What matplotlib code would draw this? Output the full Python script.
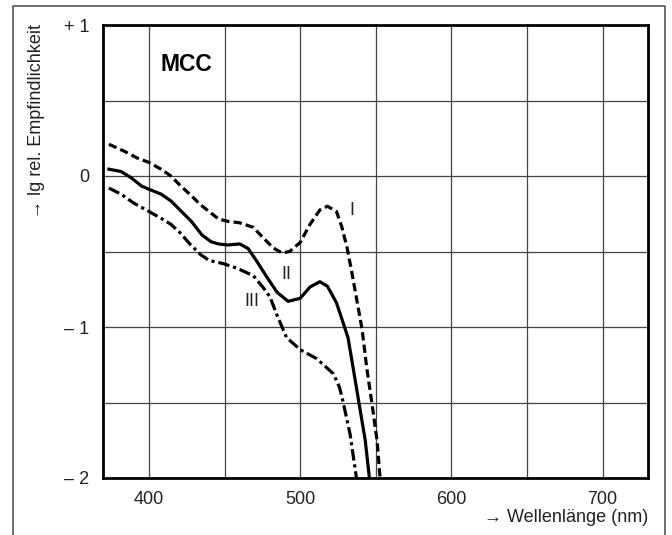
import matplotlib
matplotlib.use("Agg")
import matplotlib.pyplot as plt
from matplotlib.lines import Line2D

plt.rcParams["font.family"] = ["Liberation Sans", "DejaVu Sans"]

# curve I (dashed)
wl_1 = [373.5, 383.5, 392, 400, 408, 414.5, 421, 428, 434, 441, 446, 452, 460,
        469, 475.6, 482, 488, 493, 500, 506.5, 513, 518, 524, 527.6, 531, 534,
        537.6, 541, 544, 547.5, 550.8, 553]
val_1 = [0.21, 0.165, 0.12, 0.09, 0.045, 0.0, -0.066, -0.13, -0.19, -0.245,
         -0.285, -0.30, -0.31, -0.34, -0.41, -0.475, -0.51, -0.50, -0.44, -0.32,
         -0.225, -0.20, -0.235, -0.34, -0.475, -0.63, -0.83, -1.02, -1.27, -1.51,
         -1.75, -2.02]

# curve II (solid)
wl_2 = [373.5, 381.5, 388, 395, 400, 408, 414.5, 421, 428, 435, 441, 446, 452,
        460, 465.5, 471, 478, 484.7, 492, 500, 506.5, 513, 518, 524, 528, 531.6,
        535, 539, 543, 546]
val_2 = [0.045, 0.03, -0.01, -0.066, -0.088, -0.12, -0.165, -0.23, -0.30, -0.39,
         -0.435, -0.45, -0.457, -0.45, -0.48, -0.56, -0.67, -0.77, -0.83, -0.81,
         -0.735, -0.70, -0.73, -0.84, -0.96, -1.07, -1.27, -1.51, -1.75, -2.02]

# curve III (dash-dot)
wl_3 = [373.5, 381.5, 390, 400, 408, 414.5, 421, 427, 434, 440, 449, 458, 469,
        475.6, 480, 485, 491, 500, 511, 522, 526, 528, 533, 537.5]
val_3 = [-0.08, -0.12, -0.18, -0.235, -0.28, -0.32, -0.38, -0.45, -0.52, -0.56,
         -0.58, -0.61, -0.66, -0.74, -0.80, -0.93, -1.07, -1.15, -1.21, -1.31,
         -1.40, -1.48, -1.71, -2.02]

curve_labels = ["I", "II", "III"]
label_x = [534, 491, 468]
label_y = [-0.23, -0.65, -0.83]

x_ticks = [400, 450, 500, 550, 600, 650, 700]
x_ticklabels = ["400", "", "500", "", "600", "", "700"]
y_ticks = [-2, -1.5, -1, -0.5, 0, 0.5, 1]
y_ticklabels = ["\u2013 2", "", "\u2013 1", "", "0", "", "+ 1"]

fig = plt.figure(figsize=(6.72, 5.35), dpi=100)
ax = fig.add_axes([103 / 672, 1 - 478 / 535, 545 / 672, 453 / 535])

ax.plot(wl_1, val_1, color="black", lw=2.3, dashes=(2.6, 1.3))
ax.plot(wl_2, val_2, color="black", lw=2.3, solid_joinstyle="round")
ax.plot(wl_3, val_3, color="black", lw=2.3, dashes=(3.6, 1.2, 1.0, 1.2))

for t, x, y in zip(curve_labels, label_x, label_y):
    ax.text(x, y, t, fontsize=13, ha="center", va="center", color="#222222")

ax.text(425, 0.74, "MCC", fontsize=16.5, fontweight="bold", ha="center", va="center")

ax.set_xlim(369.6, 730)
ax.set_ylim(-2, 1)
ax.set_xticks(x_ticks)
ax.set_xticklabels(x_ticklabels)
ax.set_yticks(y_ticks)
ax.set_yticklabels(y_ticklabels)
ax.tick_params(length=0, labelsize=13, colors="#222222")
ax.tick_params(axis="x", pad=9)
ax.tick_params(axis="y", pad=10)
ax.grid(True, color="#444444", lw=0.9)
ax.set_axisbelow(True)
for s in ax.spines.values():
    s.set_linewidth(2)
    s.set_color("black")

fig.text(37 / 672, 1 - 24 / 535, "\u2192 lg rel. Empfindlichkeit", rotation=90,
         ha="center", va="top", fontsize=13, color="#222222")
fig.text(648 / 672, 1 - 517 / 535, "\u2192 Wellenl\u00e4nge (nm)",
         ha="right", va="center", fontsize=13, color="#222222")

# outer frame (open at bottom)
fx = [13 / 672, 13 / 672, 665 / 672, 665 / 672]
fy = [0, 1 - 6 / 535, 1 - 6 / 535, 0]
fig.add_artist(Line2D(fx, fy, color="#555555", lw=1.2, transform=fig.transFigure))

fig.savefig("out.png", dpi=100)
